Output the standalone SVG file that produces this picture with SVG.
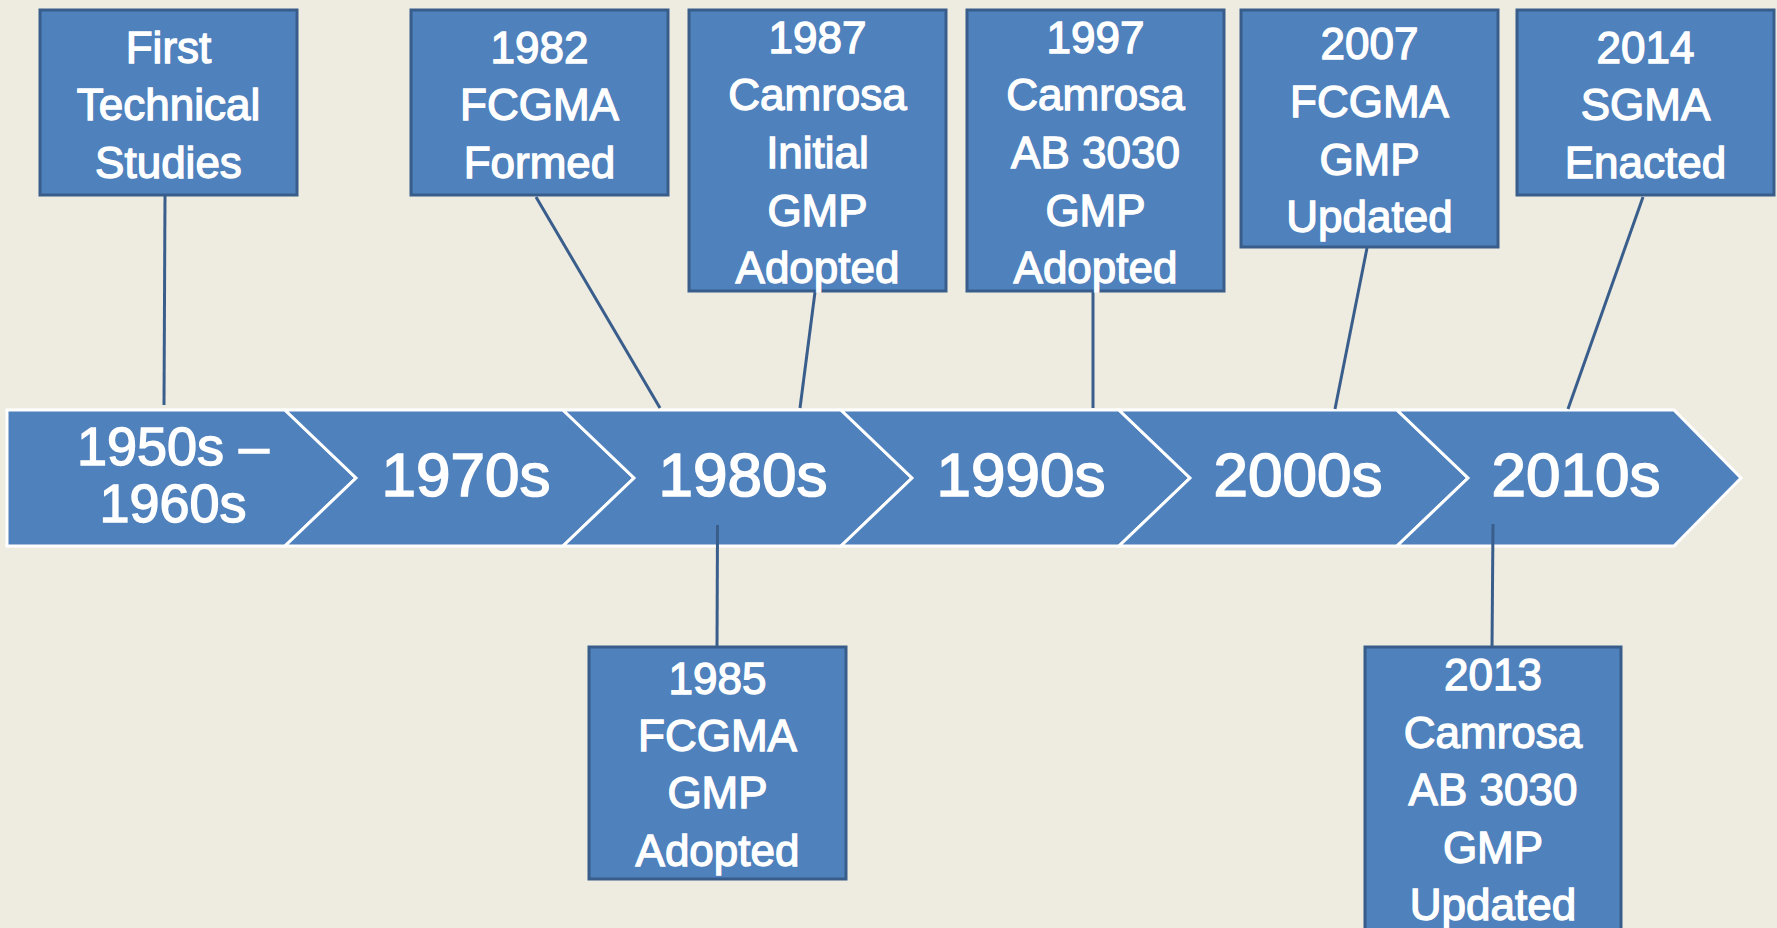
<svg xmlns="http://www.w3.org/2000/svg" width="1777" height="928" viewBox="0 0 1777 928">
<style>
.bg{fill:#EEECE1}
.seg{fill:#4F81BD;stroke:#FFFFFF;stroke-width:3;stroke-linejoin:miter}
.box{fill:#4F81BD;stroke:#385D8A;stroke-width:3}
.conn{stroke:#3A5E8C;stroke-width:3;fill:none}
.bt{font-family:"Liberation Sans",Arial,sans-serif;font-size:44px;fill:#FFFFFF;stroke:#FFFFFF;stroke-width:1.3;text-anchor:middle}
.st{font-family:"Liberation Sans",Arial,sans-serif;font-size:62px;fill:#FFFFFF;stroke:#FFFFFF;stroke-width:1.6;text-anchor:middle}
.st2{font-family:"Liberation Sans",Arial,sans-serif;font-size:54px;fill:#FFFFFF;stroke:#FFFFFF;stroke-width:1.4;text-anchor:middle}
</style>
<rect class="bg" x="0" y="0" width="1777" height="928"/>
<g id="timeline">
  <g id="seg-1950s">
    <polygon class="seg" points="7,410 285,410 356,478 285,546 7,546"/>
    <text class="st2" x="173" y="465">1950s –</text>
    <text class="st2" x="173" y="522">1960s</text>
  </g>
  <g id="seg-1970s">
    <polygon class="seg" points="285,410 563,410 634,478 563,546 285,546 356,478"/>
    <text class="st" x="466" y="496">1970s</text>
  </g>
  <g id="seg-1980s">
    <polygon class="seg" points="563,410 841,410 912,478 841,546 563,546 634,478"/>
    <text class="st" x="743" y="496">1980s</text>
  </g>
  <g id="seg-1990s">
    <polygon class="seg" points="841,410 1119,410 1190,478 1119,546 841,546 912,478"/>
    <text class="st" x="1021" y="496">1990s</text>
  </g>
  <g id="seg-2000s">
    <polygon class="seg" points="1119,410 1397,410 1468,478 1397,546 1119,546 1190,478"/>
    <text class="st" x="1298" y="496">2000s</text>
  </g>
  <g id="seg-2010s">
    <polygon class="seg" points="1397,410 1674,410 1741,478 1674,546 1397,546 1468,478"/>
    <text class="st" x="1576" y="496">2010s</text>
  </g>
</g>
<g id="connectors">
  <line class="conn" x1="165" y1="196" x2="164" y2="405"/>
  <line class="conn" x1="536" y1="197" x2="660" y2="408"/>
  <line class="conn" x1="815" y1="292" x2="800" y2="408"/>
  <line class="conn" x1="1093" y1="292" x2="1093" y2="408"/>
  <line class="conn" x1="1367" y1="248" x2="1335" y2="409"/>
  <line class="conn" x1="1643" y1="197" x2="1568" y2="409"/>
  <line class="conn" x1="717.5" y1="525" x2="717" y2="648"/>
  <line class="conn" x1="1493" y1="524" x2="1492" y2="648"/>
</g>
<g id="node-first">
  <rect class="box" x="40" y="10" width="257" height="185"/>
  <text class="bt" x="168.5" y="63">First</text>
  <text class="bt" x="168.5" y="120">Technical</text>
  <text class="bt" x="168.5" y="178">Studies</text>
</g>
<g id="node-1982">
  <rect class="box" x="411" y="10" width="257" height="185"/>
  <text class="bt" x="539.5" y="63">1982</text>
  <text class="bt" x="539.5" y="120">FCGMA</text>
  <text class="bt" x="539.5" y="178">Formed</text>
</g>
<g id="node-1987">
  <rect class="box" x="689" y="10" width="257" height="281"/>
  <text class="bt" x="817.5" y="53">1987</text>
  <text class="bt" x="817.5" y="110">Camrosa</text>
  <text class="bt" x="817.5" y="168">Initial</text>
  <text class="bt" x="817.5" y="226">GMP</text>
  <text class="bt" x="817.5" y="283">Adopted</text>
</g>
<g id="node-1997">
  <rect class="box" x="967" y="10" width="257" height="281"/>
  <text class="bt" x="1095.5" y="53">1997</text>
  <text class="bt" x="1095.5" y="110">Camrosa</text>
  <text class="bt" x="1095.5" y="168">AB 3030</text>
  <text class="bt" x="1095.5" y="226">GMP</text>
  <text class="bt" x="1095.5" y="283">Adopted</text>
</g>
<g id="node-2007">
  <rect class="box" x="1241" y="10" width="257" height="237"/>
  <text class="bt" x="1369.5" y="59">2007</text>
  <text class="bt" x="1369.5" y="117">FCGMA</text>
  <text class="bt" x="1369.5" y="175">GMP</text>
  <text class="bt" x="1369.5" y="232">Updated</text>
</g>
<g id="node-2014">
  <rect class="box" x="1517" y="10" width="257" height="185"/>
  <text class="bt" x="1645.5" y="63">2014</text>
  <text class="bt" x="1645.5" y="120">SGMA</text>
  <text class="bt" x="1645.5" y="178">Enacted</text>
</g>
<g id="node-1985">
  <rect class="box" x="589" y="647" width="257" height="232"/>
  <text class="bt" x="717.5" y="694">1985</text>
  <text class="bt" x="717.5" y="751">FCGMA</text>
  <text class="bt" x="717.5" y="808">GMP</text>
  <text class="bt" x="717.5" y="866">Adopted</text>
</g>
<g id="node-2013">
  <rect class="box" x="1365" y="647" width="256" height="295"/>
  <text class="bt" x="1493" y="690">2013</text>
  <text class="bt" x="1493" y="748">Camrosa</text>
  <text class="bt" x="1493" y="805">AB 3030</text>
  <text class="bt" x="1493" y="863">GMP</text>
  <text class="bt" x="1493" y="920">Updated</text>
</g>
</svg>
